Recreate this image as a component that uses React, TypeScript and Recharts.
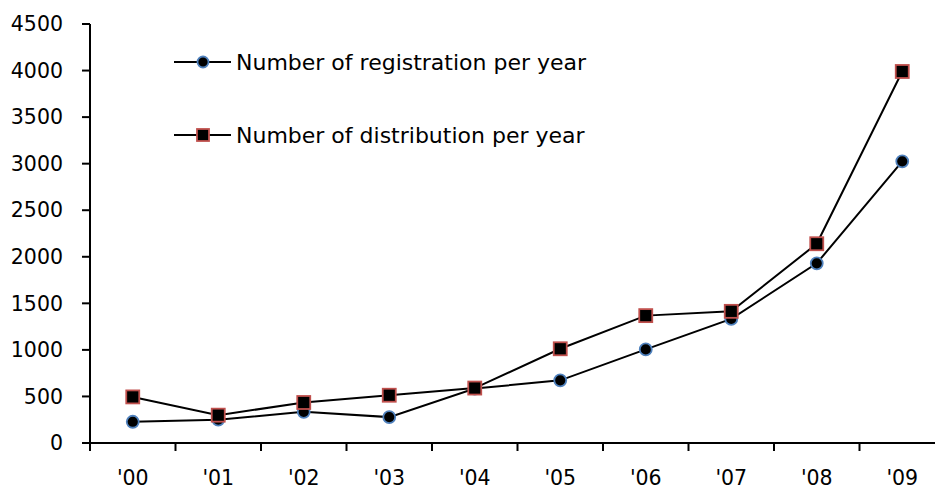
import React from 'react';
import { LineChart, Line, XAxis, YAxis } from 'recharts';

const years = ["'00", "'01", "'02", "'03", "'04", "'05", "'06", "'07", "'08", "'09"];
const registration = [228, 250, 335, 278, 585, 673, 1005, 1333, 1930, 3025];
const distribution = [495, 299, 435, 513, 590, 1012, 1368, 1414, 2140, 3990];
const yTicks = [0, 500, 1000, 1500, 2000, 2500, 3000, 3500, 4000, 4500];

const data = years.map((year, i) => ({
  year,
  registration: registration[i],
  distribution: distribution[i],
}));

const FONT = '"DejaVu Sans", sans-serif';
const BLUE = '#4f81bd';
const RED = '#c0504d';

const CircleDot = (props: any) => {
  const { cx, cy, index } = props;
  if (cx == null || cy == null) return null;
  return <circle key={`c${index}`} cx={cx} cy={cy} r={6} fill="#000" stroke={BLUE} strokeWidth={1.8} />;
};

const SquareDot = (props: any) => {
  const { cx, cy, index } = props;
  if (cx == null || cy == null) return null;
  return (
    <rect key={`s${index}`} x={cx - 6.5} y={cy - 6.5} width={13} height={13} fill="#000" stroke={RED} strokeWidth={1.8} />
  );
};

// excel-style category tick: mark on the band boundary, label in the middle
const BandTick = (props: any) => {
  const { x, y, payload } = props;
  const half = payload && payload.offset ? payload.offset : 42.75;
  return (
    <g>
      <line x1={x - half} y1={y - 27} x2={x - half} y2={y - 19} stroke="#000" strokeWidth={2} />
      <text x={x} y={y} dy="0.71em" textAnchor="middle" fill="#000" fontSize={20.5} fontFamily={FONT}>
        {payload.value}
      </text>
    </g>
  );
};

const legendItems = [
  { name: 'Number of registration per year', shape: 'circle' },
  { name: 'Number of distribution per year', shape: 'square' },
];

const LegendBox = () => (
  <div style={{ position: 'absolute', left: 174, top: 45, fontFamily: FONT, fontSize: 22, color: '#000' }}>
    {legendItems.map((item, i) => (
      <div key={item.name} style={{ display: 'flex', alignItems: 'center', height: 34, marginBottom: i === 0 ? 39 : 0 }}>
        <svg width={60} height={20}>
          <line x1={0} y1={10} x2={57} y2={10} stroke="#000" strokeWidth={2} />
          {item.shape === 'circle' ? (
            <circle cx={29} cy={10} r={5.5} fill="#000" stroke={BLUE} strokeWidth={1.8} />
          ) : (
            <rect x={23} y={4} width={12} height={12} fill="#000" stroke={RED} strokeWidth={1.8} />
          )}
        </svg>
        <span style={{ marginLeft: 2 }}>{item.name}</span>
      </div>
    ))}
  </div>
);

export default function App() {
  return (
    <div style={{ position: 'absolute', left: 0, top: 0, width: 935, height: 491, overflow: 'hidden', background: '#fff' }}>
      <LineChart width={950} height={491} data={data} margin={{ top: 24, right: 5, left: 0, bottom: 0 }}>
        <XAxis
          dataKey="year"
          scale="band"
          height={48}
          axisLine={{ stroke: '#000', strokeWidth: 2 }}
          tickLine={false}
          tickSize={8}
          tickMargin={19}
          interval={0}
          tick={<BandTick />}
        />
        <YAxis
          width={90}
          domain={[0, 4500]}
          ticks={yTicks}
          interval={0}
          axisLine={{ stroke: '#000', strokeWidth: 2 }}
          tickLine={{ stroke: '#000', strokeWidth: 2 }}
          tickSize={8}
          tickMargin={19}
          tick={{ fill: '#000', fontSize: 20.5, fontFamily: FONT }}
        />
        <Line
          type="linear"
          dataKey="registration"
          stroke="#000"
          strokeWidth={2}
          dot={<CircleDot />}
          activeDot={false}
          isAnimationActive={false}
        />
        <Line
          type="linear"
          dataKey="distribution"
          stroke="#000"
          strokeWidth={2}
          dot={<SquareDot />}
          activeDot={false}
          isAnimationActive={false}
        />
      </LineChart>
      <LegendBox />
    </div>
  );
}
